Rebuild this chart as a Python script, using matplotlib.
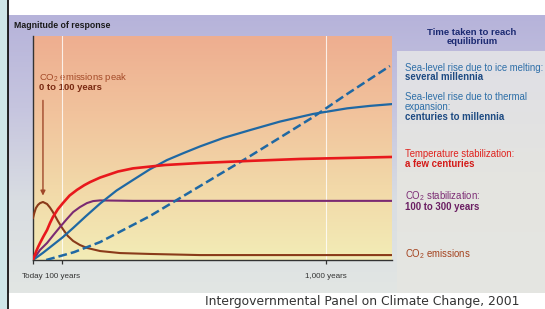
import numpy as np
import matplotlib
matplotlib.use("Agg")
import matplotlib.pyplot as plt
from matplotlib.colors import LinearSegmentedColormap
from matplotlib.patches import Rectangle

plt.rcParams['font.family'] = ['Liberation Sans', 'DejaVu Sans']
plt.rcParams['mathtext.fontset'] = 'custom'
plt.rcParams['mathtext.rm'] = 'Liberation Sans'
plt.rcParams['mathtext.it'] = 'Liberation Sans'
plt.rcParams['mathtext.bf'] = 'Liberation Sans:bold'

# ==================== Data (years after today, relative magnitude) ====================
emis_years = [0, 5, 10, 17, 24, 34, 48, 58, 68, 85, 102, 119, 137, 160, 184, 229, 297, 399, 570, 1225]
emis_mag = [0.188, 0.212, 0.232, 0.246, 0.254, 0.259, 0.25, 0.234, 0.214, 0.174, 0.138, 0.107,
            0.085, 0.067, 0.054, 0.040, 0.031, 0.027, 0.022, 0.022]

co2stab_years = [0, 24, 48, 70, 92, 115, 137, 160, 184, 205, 229, 341, 800, 1225]
co2stab_mag = [0, 0.045, 0.076, 0.112, 0.147, 0.182, 0.214, 0.236, 0.254, 0.263, 0.266, 0.264, 0.264, 0.264]

temp_years = [0, 6, 12, 18, 24, 36, 48, 58, 68, 85, 102, 125, 150, 175, 195, 229, 290, 341,
              450, 570, 750, 911, 1225]
temp_mag = [0, 0.022, 0.042, 0.060, 0.076, 0.106, 0.134, 0.165, 0.192, 0.227, 0.254, 0.288,
            0.313, 0.334, 0.348, 0.368, 0.395, 0.409, 0.424, 0.433, 0.443, 0.451, 0.46]

thermal_years = [0, 34, 68, 100, 137, 180, 229, 285, 341, 399, 457, 515, 570, 650, 741, 843,
                 956, 1072, 1150, 1225]
thermal_mag = [0, 0.032, 0.067, 0.10, 0.143, 0.195, 0.252, 0.31, 0.357, 0.405, 0.446, 0.478,
               0.507, 0.545, 0.58, 0.618, 0.652, 0.677, 0.688, 0.696]

ice_years = [45, 140, 229, 399, 570, 741, 956, 1072, 1218]
ice_mag = [0, 0.035, 0.08, 0.196, 0.33, 0.464, 0.638, 0.741, 0.866]

tick_years = [0, 100, 1000]
tick_labels = ["Today", "100 years", "1,000 years"]

# ==================== Figure / background ====================
W, H = 545, 309
fig = plt.figure(figsize=(W / 100, H / 100), dpi=100, facecolor='white')

bg = fig.add_axes([0, 0, 1, 1])
bg.set_xlim(0, W)
bg.set_ylim(H, 0)
bg.axis('off')

bg.add_patch(Rectangle((0, 0), 7, H, color='#cfe6e8', lw=0))
bg.plot([7.5, 7.5], [0, H], color='black', lw=1.2)

panel_cmap = LinearSegmentedColormap.from_list('panel', ['#b6b3da', '#c6c5df', '#d9dde2', '#e2e6e4'])
grad = np.linspace(0, 1, 256).reshape(-1, 1)
bg.imshow(grad, cmap=panel_cmap, extent=(8, W, 293, 15), aspect='auto', zorder=1)

box_cmap = LinearSegmentedColormap.from_list('box', ['#dfdfe6', '#e4e4e0', '#e5e6e2'])
bg.imshow(grad, cmap=box_cmap, extent=(397, W, 293, 51), aspect='auto', zorder=2)

plot_cmap = LinearSegmentedColormap.from_list('plot', ['#eeae90', '#f1c29c', '#f2d8a8', '#f3ecb6'])
bg.imshow(grad, cmap=plot_cmap, extent=(33, 392, 260, 36), aspect='auto', zorder=2)

# ==================== Text ====================
bg.text(14, 25, "Magnitude of response", fontsize=6.3, fontweight='bold', color='#1a1a1a', va='center', zorder=5)

bg.text(39, 78, "CO$_2$ emissions peak", fontsize=6.8, color='#a44a28', va='center', zorder=5)
bg.text(39, 88, "0 to 100 years", fontsize=6.8, fontweight='bold', color='#7a2a12', va='center', zorder=5)

bg.text(472, 37, "Time taken to reach\nequilibrium", fontsize=6.8, fontweight='bold', color='#1c2a72',
        ha='center', va='center', linespacing=1.05, zorder=5)

tx = 405
fs = 6.9
blue_l, blue_d = '#2e6fa8', '#1d4a82'
bg.text(tx, 68, "Sea-level rise due to ice melting:", fontsize=fs, color=blue_l, va='center', zorder=5)
bg.text(tx, 77, "several millennia", fontsize=fs, fontweight='bold', color=blue_d, va='center', zorder=5)
bg.text(tx, 97, "Sea-level rise due to thermal", fontsize=fs, color=blue_l, va='center', zorder=5)
bg.text(tx, 107, "expansion:", fontsize=fs, color=blue_l, va='center', zorder=5)
bg.text(tx, 117, "centuries to millennia", fontsize=fs, fontweight='bold', color=blue_d, va='center', zorder=5)
bg.text(tx, 154, "Temperature stabilization:", fontsize=fs, color='#e0221e', va='center', zorder=5)
bg.text(tx, 164, "a few centuries", fontsize=fs, fontweight='bold', color='#d41a18', va='center', zorder=5)
bg.text(tx, 196, "CO$_2$ stabilization:", fontsize=fs, color='#7c2c74', va='center', zorder=5)
bg.text(tx, 207, "100 to 300 years", fontsize=fs, fontweight='bold', color='#6a1e62', va='center', zorder=5)
bg.text(tx, 254, "CO$_2$ emissions", fontsize=fs, color='#a4421e', va='center', zorder=5)

bg.text(205, 301, "Intergovernmental Panel on Climate Change, 2001", fontsize=8.9,
        family='DejaVu Sans', color='#333333', va='center', zorder=5)

# ==================== Plot ====================
x0, x1, yb, yt = 33, 392, 260, 36
ax = fig.add_axes([x0 / W, (H - yb) / H, (x1 - x0) / W, (yb - yt) / H], zorder=3)
ax.patch.set_alpha(0)
px_per_year = 0.293
ax.set_xlim(0, (x1 - x0) / px_per_year)
ax.set_ylim(0, 1)

for t in tick_years[1:]:
    ax.axvline(t, color='white', lw=0.8, alpha=0.8, zorder=1)

ax.plot(emis_years, emis_mag, color='#8a3a1a', lw=1.5, zorder=3)
ax.plot(co2stab_years, co2stab_mag, color='#7b2a72', lw=1.5, zorder=3)
ax.plot(thermal_years, thermal_mag, color='#1f68a3', lw=1.6, zorder=4)
ax.plot(ice_years, ice_mag, color='#1f68a3', lw=1.8, ls=(0, (3.5, 1.6)), zorder=4)
ax.plot(temp_years, temp_mag, color='#e8181c', lw=1.9, zorder=5)

ax.annotate("", xy=(34, 0.275), xytext=(34, 0.725),
            arrowprops=dict(arrowstyle='-|>', color='#a0482a', lw=1.0, mutation_scale=7), zorder=6)

for s in ['top', 'right']:
    ax.spines[s].set_visible(False)
for s in ['left', 'bottom']:
    ax.spines[s].set_color('#333333')
    ax.spines[s].set_linewidth(1.0)
ax.set_yticks([])
ax.set_xticks(tick_years)
ax.set_xticklabels(tick_labels, fontsize=5.8, color='#333333')
ax.tick_params(axis='x', direction='out', length=3, width=0.9, color='#333333', pad=6)

fig.savefig("out.png", dpi=100)
